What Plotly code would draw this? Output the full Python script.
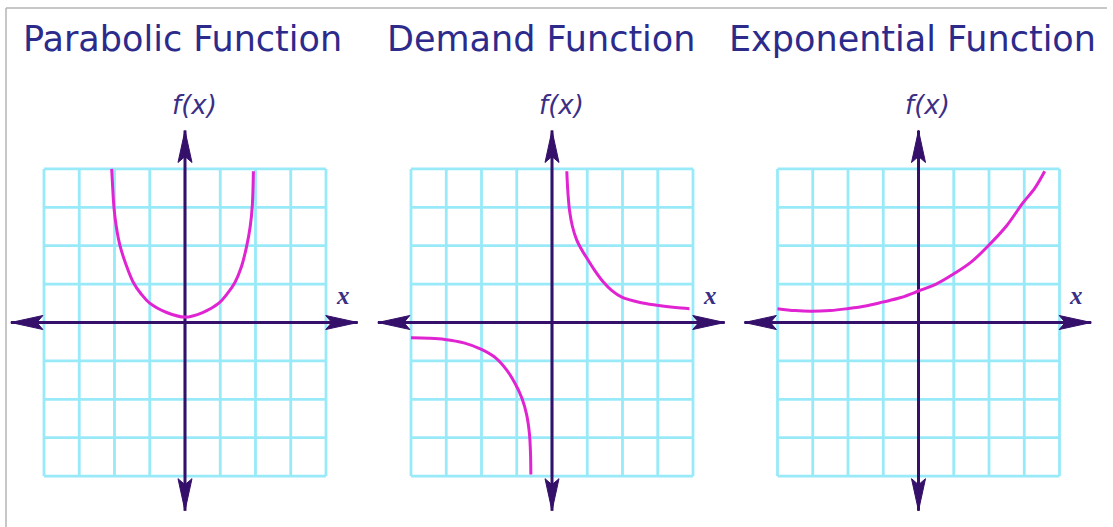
import plotly.graph_objects as go

# ---------------- data (grid units) ----------------
TITLES = ["Parabolic Function", "Demand Function", "Exponential Function"]
Y_LABEL = "f(x)"
X_LABEL = "x"
GRID_TICKS = [-4, -3, -2, -1, 0, 1, 2, 3, 4]

PARA_X = [-2.08, -2.05, -2.02, -1.95, -1.84, -1.67, -1.47, -1.25, -1.01, -0.52, 0.0,
          0.5, 0.97, 1.2, 1.42, 1.6, 1.75, 1.85, 1.91, 1.94]
PARA_Y = [4.0, 3.5, 3.05, 2.5, 1.99, 1.5, 1.05, 0.75, 0.51, 0.26, 0.14,
          0.26, 0.51, 0.75, 1.05, 1.45, 1.99, 2.5, 3.05, 3.94]

DEM_R_X = [0.42, 0.45, 0.5, 0.58, 0.7, 0.85, 1.0, 1.2, 1.45, 1.7, 1.98, 2.5, 2.97, 3.5, 3.9]
DEM_R_Y = [3.94, 3.4, 2.9, 2.5, 2.15, 1.88, 1.66, 1.37, 1.06, 0.83, 0.66, 0.52, 0.45, 0.39, 0.36]
DEM_L_X = [-4.0, -3.5, -3.04, -2.5, -2.0, -1.6, -1.3, -1.05, -0.85, -0.72, -0.64, -0.61, -0.6]
DEM_L_Y = [-0.40, -0.41, -0.44, -0.53, -0.70, -0.92, -1.22, -1.58, -1.98, -2.4, -2.9, -3.4, -3.96]

EXP_X = [-4.0, -3.5, -3.07, -2.5, -2.02, -1.5, -1.02, -0.5, 0.0, 0.5, 0.97, 1.5, 1.96, 2.5, 2.95, 3.3, 3.58]
EXP_Y = [0.36, 0.31, 0.29, 0.31, 0.36, 0.43, 0.53, 0.65, 0.82, 1.0, 1.25, 1.58, 1.98, 2.52, 3.1, 3.5, 3.94]

# ---------------- styling / geometry ----------------
W, H = 1113, 527
GRID_COLOR = "#98eaf9"
AXIS_COLOR = "#35106a"
CURVE_COLOR = "#e024d2"
TITLE_COLOR = "#2c2b8c"
LABEL_COLOR = "#3b2e85"

CX = [185, 552, 918.5]   # panel centres (px)
CY = 322.5               # x-axis position (px from top)
UX, UY = 35.25, 38.4     # px per grid unit
XR = 5.1
YR = 5.2
AX_X = (-4.94, 4.9)
AX_Y = (-4.9, 5.0)
HEAD_LEN, HEAD_HALF, HEAD_NOTCH = 32, 7, 6   # px

fig = go.Figure()


def panel_refs(i):
    return ("x" if i == 0 else f"x{i+1}", "y" if i == 0 else f"y{i+1}")


def head(tip, direction):
    """arrow-head outline around an axis end, in data units"""
    tx, ty = tip
    if direction in ("left", "right"):
        s = -1 if direction == "right" else 1
        L, w, n = HEAD_LEN / UX, HEAD_HALF / UY, HEAD_NOTCH / UX
        xs = [tx, tx + s * L, tx + s * (L - n), tx + s * L, tx]
        ys = [ty, ty + w, ty, ty - w, ty]
    else:
        s = -1 if direction == "up" else 1
        L, w, n = HEAD_LEN / UY, HEAD_HALF / UX, HEAD_NOTCH / UY
        xs = [tx, tx + w, tx, tx - w, tx]
        ys = [ty, ty + s * L, ty + s * (L - n), ty + s * L, ty]
    return xs, ys


curves = [
    [(PARA_X, PARA_Y)],
    [(DEM_R_X, DEM_R_Y), (DEM_L_X, DEM_L_Y)],
    [(EXP_X, EXP_Y)],
]

layout_axes = {}
for i in range(3):
    xr, yr = panel_refs(i)
    # grid
    gx, gy = [], []
    lo, hi = GRID_TICKS[0], GRID_TICKS[-1]
    for t in GRID_TICKS:
        gx += [t, t, None]
        gy += [lo, hi, None]
        gx += [lo, hi, None]
        gy += [t, t, None]
    fig.add_trace(go.Scatter(x=gx, y=gy, mode="lines", xaxis=xr, yaxis=yr,
                             line=dict(color=GRID_COLOR, width=2.8),
                             hoverinfo="skip", showlegend=False))
    # axis lines
    fig.add_trace(go.Scatter(x=[AX_X[0], AX_X[1], None, 0, 0], y=[0, 0, None, AX_Y[0], AX_Y[1]],
                             mode="lines", xaxis=xr, yaxis=yr,
                             line=dict(color=AXIS_COLOR, width=3),
                             hoverinfo="skip", showlegend=False, cliponaxis=False))
    # arrow heads
    for tip, d in [((AX_X[0], 0), "left"), ((AX_X[1], 0), "right"),
                   ((0, AX_Y[0]), "down"), ((0, AX_Y[1]), "up")]:
        hx, hy = head(tip, d)
        fig.add_trace(go.Scatter(x=hx, y=hy, mode="lines", fill="toself", fillcolor=AXIS_COLOR,
                                 xaxis=xr, yaxis=yr, line=dict(color=AXIS_COLOR, width=1),
                                 hoverinfo="skip", showlegend=False, cliponaxis=False))
    # curves
    for cxs, cys in curves[i]:
        fig.add_trace(go.Scatter(x=cxs, y=cys, mode="lines", xaxis=xr, yaxis=yr,
                                 line=dict(color=CURVE_COLOR, width=3, shape="spline", smoothing=1.0),
                                 hoverinfo="skip", showlegend=False))
    x0 = (CX[i] - XR * UX) / W
    x1 = (CX[i] + XR * UX) / W
    y0 = (H - (CY + YR * UY)) / H
    y1 = (H - (CY - YR * UY)) / H
    key = "" if i == 0 else str(i + 1)
    layout_axes["xaxis" + key] = dict(domain=[x0, x1], range=[-XR, XR], visible=False,
                                      anchor=yr, fixedrange=True)
    layout_axes["yaxis" + key] = dict(domain=[max(0, y0), min(1, y1)], range=[-YR, YR], visible=False,
                                      anchor=xr, fixedrange=True)

annotations = []
TITLE_LEFT = [21, 385, 727]
for i in range(3):
    xr, yr = panel_refs(i)
    annotations.append(dict(text=TITLES[i], xref="paper", yref="paper",
                            x=TITLE_LEFT[i] / W, y=(H - 39) / H, xanchor="left", yanchor="middle",
                            showarrow=False,
                            font=dict(family="DejaVu Sans", size=35, color=TITLE_COLOR)))
    annotations.append(dict(text="<i>" + Y_LABEL + "</i>", xref=xr, yref="paper",
                            x=0.26, y=(H - 105) / H, xanchor="center", yanchor="middle",
                            showarrow=False,
                            font=dict(family="DejaVu Sans", size=26, color=LABEL_COLOR)))
    annotations.append(dict(text="<b><i>" + X_LABEL + "</i></b>", xref=xr, yref=yr,
                            x=4.48, y=0.7, xanchor="center", yanchor="middle",
                            showarrow=False,
                            font=dict(family="Liberation Serif", size=25, color=LABEL_COLOR)))

shapes = [
    dict(type="line", xref="paper", yref="paper", x0=6 / W, x1=1107 / W, y0=(H - 8) / H, y1=(H - 8) / H,
         line=dict(color="#b5b5b5", width=1.5)),
    dict(type="line", xref="paper", yref="paper", x0=6 / W, x1=6 / W, y0=0, y1=(H - 8) / H,
         line=dict(color="#b5b5b5", width=1.5)),
]

fig.update_layout(width=W, height=H, margin=dict(l=0, r=0, t=0, b=0),
                  paper_bgcolor="white", plot_bgcolor="rgba(0,0,0,0)",
                  annotations=annotations, shapes=shapes, showlegend=False,
                  **layout_axes)
fig.write_html("out.html", config={"displayModeBar": False},
               post_script="document.body.style.margin='0';")
